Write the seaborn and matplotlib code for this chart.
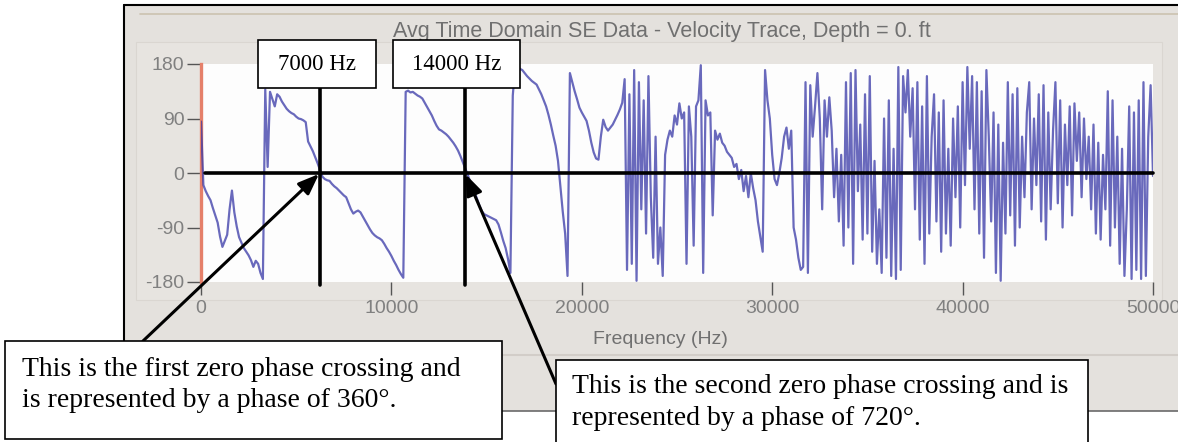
import numpy as np
import pandas as pd
import matplotlib
matplotlib.use("Agg")
import matplotlib.pyplot as plt
from matplotlib.patches import Rectangle
from matplotlib.lines import Line2D
import seaborn as sns

# ---------------- data ----------------
FREQ_STEP_HZ = 125
phase_deg = [
    85, -20, -30, -38, -45, -58, -70, -82, -105, -122,
    -112, -102, -60, -29, -65, -88, -106, -115, -124, -130,
    -136, -144, -155, -145, -150, -165, -175, 138, 10, 134,
    122, 110, 130, 126, 118, 112, 106, 102, 99, 97,
    93, 90, 89, 87, 84, 52, 44, 36, 26, 16,
    5, -6, -10, -12, -13, -18, -22, -25, -29, -33,
    -37, -40, -50, -60, -67, -64, -62, -65, -72, -79,
    -86, -93, -99, -103, -106, -108, -111, -117, -124, -130,
    -137, -145, -152, -160, -167, -173, 134, 136, 133, 134,
    131, 128, 126, 123, 116, 109, 102, 95, 86, 78,
    72, 70, 67, 64, 60, 55, 50, 44, 37, 28,
    18, 8, -2, -13, -22, -32, -43, -54, -63, -68,
    -70, -72, -74, -76, -78, -85, -98, -112, -124, -142,
    -165, 128, 176, 176, 172, 170, 165, 160, 156, 152,
    149, 146, 138, 130, 120, 110, 96, 80, 62, 45,
    20, -22, -64, -100, -170, 165, 150, 135, 122, 108,
    100, 93, 86, 70, 50, 34, 24, 22, 60, 88,
    76, 70, 75, 80, 88, 96, 105, 116,
    155, -160, 130, -150, 170, -178, 150, -60, 120, -100,
    160, -40, -140, 60, -150, -90, -170, 30, 55, 70,
    60, 95, 80, 115, 90, 100, -150, 110, 60, -120,
    110, 120, 178, -165, 120, 95, 100, -70, 70, 55,
    65, 50, 45, 35, 30, 25, 10, 15, -10, 5,
    -30, -5, -40, 0, -25, -45, -80, -105, -130, 170,
    120, 90, 30, -10, -20, 0, 25, 60, 75, 40,
    70, -90, -110, -140, -160, -155, 150, -165, 145, 60,
    110, 165, 90, -60, 120, 60, 125, 70, -40, 40,
    -80, 30, -120, 150, -90, 165, -150, 170, -30, 80,
    -110, 130, -100, 160, -130, 20, -150, -60, -165, 90,
    -140, 120, -170, 40, -175, 175, -160, 160, 100, 170,
    60, 140, -60, 150, -110, 110, -150, 160, -100, 60,
    130, -80, 100, -130, 120, -100, 40, -120, 90, -40,
    110, -90, 150, -20, 175, 40, 160, -60, 150, -100,
    135, -140, 170, 60, -80, 100, -165, 80, -178, 50,
    -100, 150, -70, 130, -120, 140, -90, 60, -40, 100,
    150, -60, 90, -20, 130, -80, 145, -110, 100, -60,
    70, 150, -50, 120, -90, 80, -20, 110, -70, 115,
    20, 100, -40, 90, -10, 60, -60, 80, -100, 50,
    -110, 30, -60, 135, -120, 120, -90, 60, -150, 40,
    -170, -60, 110, -175, 100, -160, 120, -175, 150, -170,
    60, 145, -5,
]
freq_hz = np.arange(len(phase_deg)) * FREQ_STEP_HZ

title = "Avg Time Domain SE Data - Velocity Trace, Depth = 0. ft"
x_label = "Frequency (Hz)"
x_ticks = [0, 10000, 20000, 30000, 40000, 50000]
y_ticks = [-180, -90, 0, 90, 180]
marker_freqs = [6250, 13870]
marker_labels = ["7000 Hz", "14000 Hz"]
note_texts = [
    "This is the first zero phase crossing and\nis represented by a phase of 360\u00b0.",
    "This is the second zero phase crossing and is\nrepresented by a phase of 720\u00b0.",
]

# ---------------- style ----------------
sns.set_style("white")
plt.rcParams["font.family"] = ["Liberation Sans", "DejaVu Sans"]
SERIF = ["Liberation Serif", "DejaVu Serif"]

W, H = 1178, 442
fig = plt.figure(figsize=(W / 100, H / 100), dpi=100)
fig.patch.set_facecolor("white")


def fx(px):
    return px / W


def fy(py):
    return 1 - py / H


def fig_rect(x0, y0, x1, y1, **kw):
    r = Rectangle((fx(x0), fy(y1)), fx(x1) - fx(x0), fy(y0) - fy(y1),
                  transform=fig.transFigure, **kw)
    fig.add_artist(r)
    return r


def fig_line(x0, y0, x1, y1, **kw):
    ln = Line2D([fx(x0), fx(x1)], [fy(y0), fy(y1)], transform=fig.transFigure, **kw)
    fig.add_artist(ln)
    return ln


# window-like grey panel
fig_rect(124, 5, 1178, 411, facecolor="#e4e1dd", edgecolor="none", zorder=-10)
fig_rect(136, 42, 1162, 300, facecolor="#e7e4e0", edgecolor="#dad6d1", lw=0.8, zorder=-9)
fig_line(124, 5, 1178, 5, color="black", lw=1.5, zorder=-8)
fig_line(124, 5, 124, 411, color="black", lw=1.5, zorder=-8)
fig_line(140, 14, 1178, 14, color="#cbc2b0", lw=1.2, zorder=-8)
fig_line(124, 355, 1178, 355, color="#d2cdc8", lw=1.5, zorder=-8)
fig_line(124, 411, 1178, 411, color="#6a6a6a", lw=1.2, zorder=-8)

# ---------------- axes ----------------
ax = fig.add_axes([fx(201), fy(282), fx(1153) - fx(201), fy(64) - fy(282)])
ax.set_facecolor("#fdfdfd")
df = pd.DataFrame({"Frequency (Hz)": freq_hz, "Phase": phase_deg})
sns.lineplot(data=df, x="Frequency (Hz)", y="Phase", ax=ax, color="#3838a6",
             lw=1.6, alpha=0.75, estimator=None, sort=False, zorder=3)
ax.set_xlim(0, 50000)
ax.set_ylim(-180, 180)
ax.set_xticks(x_ticks)
ax.set_yticks(y_ticks)
ax.set_xticklabels([str(v) for v in x_ticks])
ax.set_yticklabels([str(v) for v in y_ticks])
ax.set_xlabel("")
ax.set_ylabel("")
for s in ["top", "right", "bottom"]:
    ax.spines[s].set_visible(False)
ax.spines["left"].set_color("#e5806a")
ax.spines["left"].set_linewidth(2.4)
ax.tick_params(axis="x", bottom=True, length=9, width=1, color="#555555",
               labelsize=14, labelcolor="#808080", pad=4)
ax.tick_params(axis="y", left=True, length=10, width=1, color="#555555",
               labelsize=14, labelcolor="#808080", pad=2)

# zero line and marker lines
ax.plot([200, 50000], [0, 0], color="black", lw=2.6, zorder=5, clip_on=False)
for f in marker_freqs:
    ax.plot([f, f], [-185, 140], color="black", lw=2.6, zorder=5, clip_on=False)

# title and axis label
fig.text(fx(662), fy(32), title, ha="center", va="center", fontsize=15.5, color="#707070")
fig.text(fx(660), fy(340), x_label, ha="center", va="center", fontsize=14, color="#707070")

# marker label boxes
label_boxes = [(258, 40, 376, 88), (393, 40, 520, 88)]
for (x0, y0, x1, y1), lab in zip(label_boxes, marker_labels):
    fig_rect(x0, y0, x1, y1, facecolor="white", edgecolor="black", lw=1.2, zorder=6)
    fig.text(fx((x0 + x1) / 2), fy((y0 + y1) / 2), lab, ha="center", va="center",
             fontsize=16.5, family=SERIF, color="black", zorder=7)

# note boxes
fig_rect(5, 341, 502, 439, facecolor="white", edgecolor="black", lw=1.2, zorder=6)
fig.text(fx(22), fy(357), note_texts[0], ha="left", va="top", fontsize=20,
         family=SERIF, color="black", linespacing=1.31, zorder=7)
fig_rect(556, 360, 1088, 470, facecolor="white", edgecolor="black", lw=1.2, zorder=6)
fig.text(fx(572), fy(374), note_texts[1], ha="left", va="top", fontsize=20,
         family=SERIF, color="black", linespacing=1.36, zorder=7)

# arrows from note boxes to the zero crossings
arrow_tails = [(143, 341), (556, 384)]
for f, (tx, ty) in zip(marker_freqs, arrow_tails):
    ax.annotate("", xy=(f, 0), xycoords="data",
                xytext=(fx(tx), fy(ty)), textcoords="figure fraction",
                arrowprops=dict(arrowstyle="-|>,head_length=0.9,head_width=0.35",
                                color="black", lw=2.2, shrinkA=0, shrinkB=1,
                                mutation_scale=14),
                annotation_clip=False, zorder=8)

fig.savefig("out.png", dpi=100)
